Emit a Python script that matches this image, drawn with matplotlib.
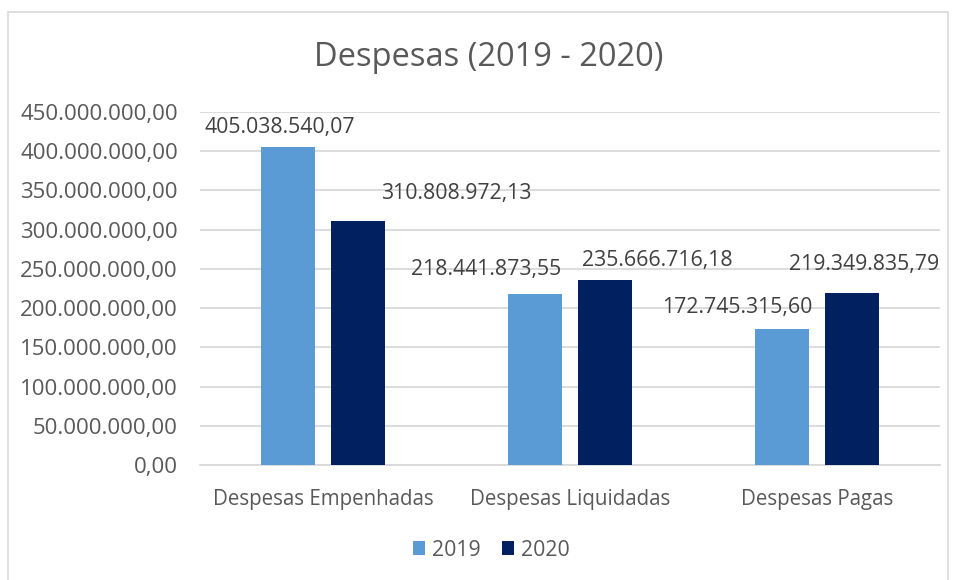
import numpy as np
import matplotlib.pyplot as plt
from matplotlib.patches import Rectangle
from matplotlib.ticker import FuncFormatter

categories = ["Despesas Empenhadas", "Despesas Liquidadas", "Despesas Pagas"]
values_2019 = [405038540.07, 218441873.55, 172745315.60]
values_2020 = [310808972.13, 235666716.18, 219349835.79]
series_names = ["2019", "2020"]

# label offsets in pixels (Excel nudges labels away from neighbouring bars)
offsets_2019 = [(-8, 20), (-49, 24), (-44, 22)]
offsets_2020 = [(98, 28), (52, 20), (12, 28)]

color_2019 = "#5B9BD5"
color_2020 = "#002060"
text_color = "#595959"
grid_color = "#D9D9D9"


def br_format(v, decimals=2):
    s = f"{v:,.{decimals}f}"
    return s.replace(",", "X").replace(".", ",").replace("X", ".")


plt.rcParams["font.family"] = ["Open Sans", "DejaVu Sans"]

fig = plt.figure(figsize=(9.55, 5.8), dpi=100)
ax = fig.add_axes([200 / 955, 1 - 465 / 580, 740 / 955, 353 / 580])

x = np.arange(len(categories))
width = 0.219
shift = 0.142
bars1 = ax.bar(x - shift, values_2019, width, color=color_2019, label=series_names[0], zorder=3)
bars2 = ax.bar(x + shift, values_2020, width, color=color_2020, label=series_names[1], zorder=3)

for bars, vals, offs in [(bars1, values_2019, offsets_2019), (bars2, values_2020, offsets_2020)]:
    for b, v, o in zip(bars, vals, offs):
        ax.annotate(br_format(v), (b.get_x() + b.get_width() / 2, v),
                    xytext=o, textcoords="offset pixels",
                    ha="center", va="center", fontsize=15.3, color="#404040", zorder=4)

ax.set_xlim(-0.5, 2.5)
ax.set_ylim(0, 450000000)
ax.set_yticks(np.arange(0, 450000001, 50000000))
ax.yaxis.set_major_formatter(FuncFormatter(lambda v, p: br_format(v)))
ax.set_xticks(x)
ax.set_xticklabels(categories)
ax.tick_params(axis="y", length=0, labelsize=16, labelcolor=text_color, pad=16)
ax.tick_params(axis="x", length=0, labelsize=14.8, labelcolor=text_color, pad=17)
ax.grid(axis="y", color=grid_color, linewidth=1.3, zorder=0)
for side in ["top", "right", "left"]:
    ax.spines[side].set_visible(False)
ax.spines["bottom"].set_color(grid_color)
ax.spines["bottom"].set_linewidth(1.3)

fig.text(489 / 955, 1 - 58 / 580, "Despesas (2019 - 2020)", ha="center", va="center",
         fontsize=23.5, color=text_color)

fig.legend(loc="center", bbox_to_anchor=(491 / 955, 1 - 550 / 580), ncol=2, frameon=False,
           fontsize=15.3, labelcolor=text_color, handlelength=0.6, handleheight=0.6,
           handletextpad=0.3, columnspacing=1.0)

fig.patches.append(Rectangle((8 / 955, -0.05), 940 / 955, 1 - 12 / 580 + 0.05,
                             transform=fig.transFigure, fill=False,
                             edgecolor="#D9D9D9", linewidth=1.2))

fig.savefig("out.png", dpi=100)
